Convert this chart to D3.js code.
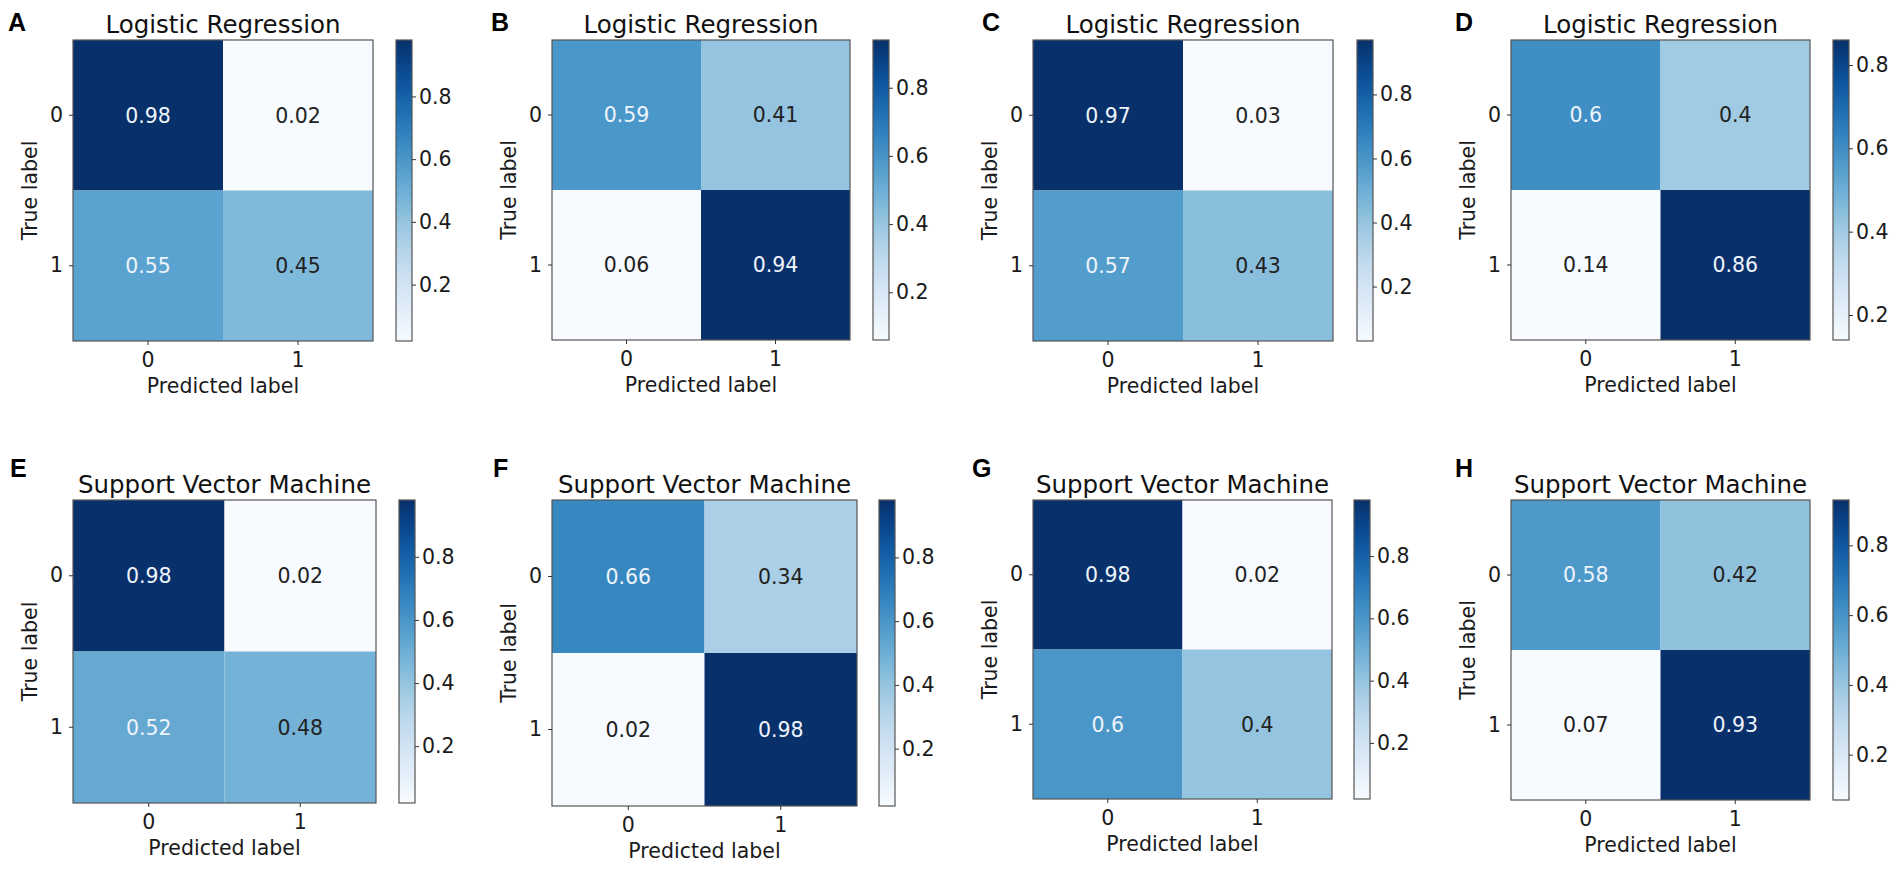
<!DOCTYPE html>
<html>
<head>
<meta charset="utf-8">
<script src="https://cdn.jsdelivr.net/npm/d3@7"></script>
<style>
  body { margin: 0; background: #fff; }
  svg { display: block; font-family: 'DejaVu Sans', sans-serif; }
  .tick text { fill: #1a1a1a; }
  .tick line { stroke: #333; }
</style>
</head>
<body>
<svg id="chart" width="1902" height="873"></svg>
<script>
// data
const panelLetters = ['A', 'B', 'C', 'D', 'E', 'F', 'G', 'H'];
const panelTitles = [
  'Logistic Regression', 'Logistic Regression', 'Logistic Regression', 'Logistic Regression',
  'Support Vector Machine', 'Support Vector Machine', 'Support Vector Machine', 'Support Vector Machine'
];
const classLabels = ['0', '1'];
const matrixA = [[0.98, 0.02], [0.55, 0.45]];
const matrixB = [[0.59, 0.41], [0.06, 0.94]];
const matrixC = [[0.97, 0.03], [0.57, 0.43]];
const matrixD = [[0.6, 0.4], [0.14, 0.86]];
const matrixE = [[0.98, 0.02], [0.52, 0.48]];
const matrixF = [[0.66, 0.34], [0.02, 0.98]];
const matrixG = [[0.98, 0.02], [0.6, 0.4]];
const matrixH = [[0.58, 0.42], [0.07, 0.93]];
const matrices = [matrixA, matrixB, matrixC, matrixD, matrixE, matrixF, matrixG, matrixH];
const colorbarTicks = [0.2, 0.4, 0.6, 0.8];
const xAxisLabel = 'Predicted label';
const yAxisLabel = 'True label';

// layout: heatmap box and colorbar position for each panel
const layout = [
  { x: 73, y: 40, w: 300, h: 301, cbx: 396, lx: 8, ly: 31 },
  { x: 552, y: 40, w: 298, h: 300, cbx: 873, lx: 491, ly: 31 },
  { x: 1033, y: 40, w: 300, h: 301, cbx: 1357, lx: 982, ly: 31 },
  { x: 1511, y: 40, w: 299, h: 300, cbx: 1833, lx: 1455, ly: 31 },
  { x: 73, y: 500, w: 303, h: 303, cbx: 399, lx: 10, ly: 477 },
  { x: 552, y: 500, w: 305, h: 306, cbx: 879, lx: 493, ly: 477 },
  { x: 1033, y: 500, w: 299, h: 299, cbx: 1354, lx: 972, ly: 477 },
  { x: 1511, y: 500, w: 299, h: 300, cbx: 1833, lx: 1455, ly: 477 }
];
const cbWidth = 16;
const fontSize = 20.5;
const frameColor = '#555';

const svg = d3.select('#chart');
const defs = svg.append('defs');

// one gradient serves every colorbar: the colormap always spans min..max
const grad = defs.append('linearGradient')
  .attr('id', 'blues')
  .attr('x1', 0).attr('y1', 1).attr('x2', 0).attr('y2', 0);
d3.range(0, 1.0001, 0.05).forEach((t) => {
  grad.append('stop')
    .attr('offset', t)
    .attr('stop-color', d3.interpolateBlues(t));
});

matrices.forEach((m, i) => {
  const box = layout[i];
  const values = m.flat();
  const vmin = d3.min(values);
  const vmax = d3.max(values);
  const thresh = (vmin + vmax) / 2;

  const x = d3.scaleBand().domain(classLabels).range([0, box.w]);
  const y = d3.scaleBand().domain(classLabels).range([0, box.h]);
  const color = d3.scaleSequential(d3.interpolateBlues).domain([vmin, vmax]);

  const cells = m.flatMap((row, r) =>
    row.map((v, c) => ({ row: classLabels[r], col: classLabels[c], v }))
  );

  const g = svg.append('g').attr('transform', `translate(${box.x},${box.y})`);

  g.selectAll('rect.cell')
    .data(cells)
    .enter()
    .append('rect')
    .attr('class', 'cell')
    .attr('x', (d) => x(d.col))
    .attr('y', (d) => y(d.row))
    .attr('width', x.bandwidth())
    .attr('height', y.bandwidth())
    .attr('fill', (d) => color(d.v));

  g.selectAll('text.val')
    .data(cells)
    .enter()
    .append('text')
    .attr('class', 'val')
    .attr('x', (d) => x(d.col) + x.bandwidth() / 2)
    .attr('y', (d) => y(d.row) + y.bandwidth() / 2)
    .attr('text-anchor', 'middle')
    .attr('dy', '0.36em')
    .attr('font-size', `${fontSize}px`)
    .attr('fill', (d) => (d.v < thresh ? '#222' : '#eef4fb'))
    .text((d) => String(d.v));

  g.append('rect')
    .attr('width', box.w)
    .attr('height', box.h)
    .attr('fill', 'none')
    .attr('stroke', frameColor)
    .attr('stroke-width', 1.2);

  g.append('g')
    .attr('transform', `translate(0,${box.h})`)
    .call(d3.axisBottom(x).tickSize(4).tickPadding(7))
    .call((a) => a.select('.domain').remove())
    .selectAll('text')
    .attr('font-size', `${fontSize}px`)
    .attr('font-family', 'DejaVu Sans');

  g.append('g')
    .call(d3.axisLeft(y).tickSize(4).tickPadding(6))
    .call((a) => a.select('.domain').remove())
    .selectAll('text')
    .attr('font-size', `${fontSize}px`)
    .attr('font-family', 'DejaVu Sans');

  g.append('text')
    .attr('x', box.w / 2)
    .attr('y', box.h + 52)
    .attr('text-anchor', 'middle')
    .attr('font-size', `${fontSize}px`)
    .attr('fill', '#1a1a1a')
    .text(xAxisLabel);

  g.append('text')
    .attr('transform', `translate(-36,${box.h / 2}) rotate(-90)`)
    .attr('text-anchor', 'middle')
    .attr('font-size', `${fontSize}px`)
    .attr('fill', '#1a1a1a')
    .text(yAxisLabel);

  g.append('text')
    .attr('x', box.w / 2)
    .attr('y', -7)
    .attr('text-anchor', 'middle')
    .attr('font-size', '24.5px')
    .attr('fill', '#111')
    .text(panelTitles[i]);

  // colorbar
  const cbScale = d3.scaleLinear().domain([vmin, vmax]).range([box.h, 0]);
  const cb = svg.append('g').attr('transform', `translate(${box.cbx},${box.y})`);
  cb.append('rect')
    .attr('width', cbWidth)
    .attr('height', box.h)
    .attr('fill', 'url(#blues)')
    .attr('stroke', frameColor)
    .attr('stroke-width', 1.2);
  cb.append('g')
    .attr('transform', `translate(${cbWidth},0)`)
    .call(d3.axisRight(cbScale).tickValues(colorbarTicks).tickSize(4).tickPadding(3)
      .tickFormat(d3.format('.1f')))
    .call((a) => a.select('.domain').remove())
    .selectAll('text')
    .attr('font-size', `${fontSize}px`)
    .attr('font-family', 'DejaVu Sans');

  // panel letter
  svg.append('text')
    .attr('x', box.lx)
    .attr('y', box.ly)
    .attr('font-family', 'Liberation Sans, Arial, sans-serif')
    .attr('font-weight', 'bold')
    .attr('font-size', '25px')
    .attr('fill', '#000')
    .text(panelLetters[i]);
});
</script>
</body>
</html>
